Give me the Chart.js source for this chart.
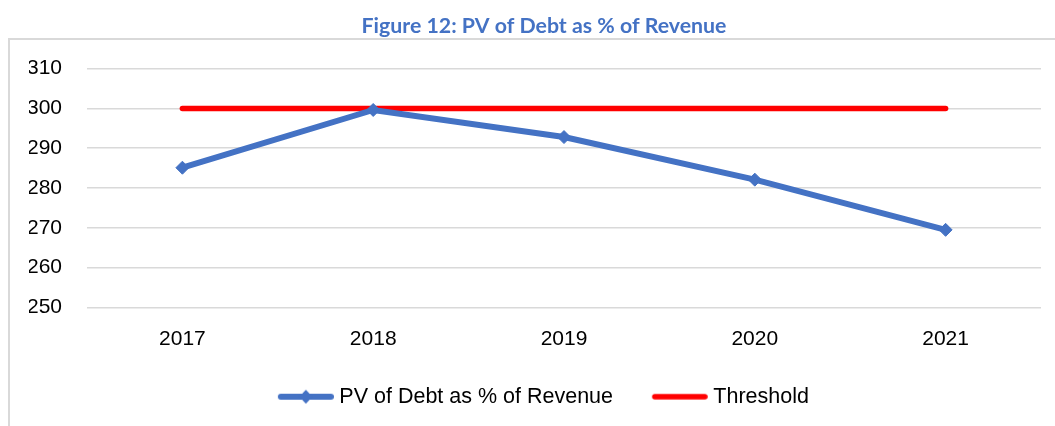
<!DOCTYPE html>
<html>
<head>
<meta charset="utf-8">
<title>PV of Debt as % of Revenue</title>
<script src="https://cdn.jsdelivr.net/npm/chart.js@4.4.1/dist/chart.umd.min.js"></script>
<style>
  body { margin: 0; background: #fff; overflow: hidden; }
  #wrap { position: relative; width: 1055px; height: 426px; overflow: hidden; }
  #frame {
    position: absolute; left: 8px; top: 38px; width: 1100px; height: 500px;
    border: 2px solid #d9d9d9; box-sizing: border-box;
  }
  #chartCanvas { position: absolute; left: 0; top: 0; }
</style>
</head>
<body>
<div id="wrap">
  <div id="frame"></div>
  <canvas id="chartCanvas" width="1080" height="426"></canvas>
</div>
<script>
// data
const years = ["2017", "2018", "2019", "2020", "2021"];
const pvDebt = [285.1, 299.6, 292.8, 282.1, 269.5];
const threshold = [300, 300, 300, 300, 300];
const yTicks = [250, 260, 270, 280, 290, 300, 310];

const blue = "#4472C4";
const red = "#FF0000";

// legend symbols (line with marker / plain line)
function legendIcon(color, width, diamond) {
  const c = document.createElement("canvas");
  c.width = 60;
  c.height = 16;
  const g = c.getContext("2d");
  g.strokeStyle = color;
  g.lineWidth = width;
  g.lineCap = "round";
  g.beginPath();
  g.moveTo(7, 8);
  g.lineTo(57, 8);
  g.stroke();
  if (diamond) {
    g.fillStyle = color;
    g.beginPath();
    g.moveTo(32 - 6.5, 8);
    g.lineTo(32, 1);
    g.lineTo(32 + 6.5, 8);
    g.lineTo(32, 15);
    g.closePath();
    g.fill();
  }
  return c;
}
const icons = [legendIcon(blue, 6, true), legendIcon(red, 5.5, false)];

const ctx = document.getElementById("chartCanvas").getContext("2d");

new Chart(ctx, {
  type: "line",
  data: {
    labels: years,
    datasets: [
      {
        label: "PV of Debt as % of Revenue",
        data: pvDebt,
        borderColor: blue,
        backgroundColor: blue,
        borderWidth: 6,
        pointStyle: "rectRot",
        pointRadius: 6.5,
        pointBorderWidth: 1,
        pointHoverRadius: 6.5,
        tension: 0,
      },
      {
        label: "Threshold",
        data: threshold,
        borderColor: red,
        backgroundColor: red,
        borderWidth: 5.5,
        borderCapStyle: "round",
        pointRadius: 0,
        pointHoverRadius: 0,
        tension: 0,
      },
    ],
  },
  options: {
    responsive: false,
    animation: false,
    devicePixelRatio: 1,
    layout: { padding: { left: 29, right: 21, top: 0, bottom: 8.5 } },
    plugins: {
      title: {
        display: true,
        text: "Figure 12: PV of Debt as % of Revenue",
        color: blue,
        font: { family: "Lato", weight: "bold", size: 21.3 },
        padding: { top: 13, bottom: 30 },
      },
      legend: {
        position: "bottom",
        labels: {
          usePointStyle: true,
          pointStyleWidth: 49.5,
          padding: 40,
          color: "#000",
          font: { family: "Liberation Sans", size: 21.5 },
          generateLabels: (chart) =>
            chart.data.datasets.map((ds, i) => ({
              text: ds.label,
              pointStyle: icons[i],
              fillStyle: ds.borderColor,
              strokeStyle: ds.borderColor,
              lineWidth: 0,
              fontColor: "#000",
              datasetIndex: i,
              hidden: false,
            })),
        },
      },
      tooltip: { enabled: false },
    },
    scales: {
      x: {
        offset: true,
        grid: { display: false, drawTicks: false },
        border: { display: false },
        ticks: {
          color: "#000",
          padding: 19,
          font: { family: "Liberation Sans", size: 21 },
        },
        afterFit: (scale) => { scale.height = 38.5; },
      },
      y: {
        min: 250,
        max: 310,
        afterBuildTicks: (scale) => { scale.ticks = yTicks.map((v) => ({ value: v })); },
        grid: { color: "#d9d9d9", lineWidth: 1.5, drawTicks: false },
        border: { display: false },
        ticks: {
          color: "#000",
          padding: 25,
          font: { family: "Liberation Sans", size: 21 },
        },
        afterFit: (scale) => { scale.width = 58; },
      },
      // empty right-hand spacer so title and legend sit where the reference has them
      spacer: {
        type: "linear",
        position: "right",
        grid: { display: false, drawTicks: false },
        border: { display: false },
        ticks: { display: false },
        afterFit: (scale) => { scale.width = 18; },
      },
    },
  },
});
</script>
</body>
</html>
